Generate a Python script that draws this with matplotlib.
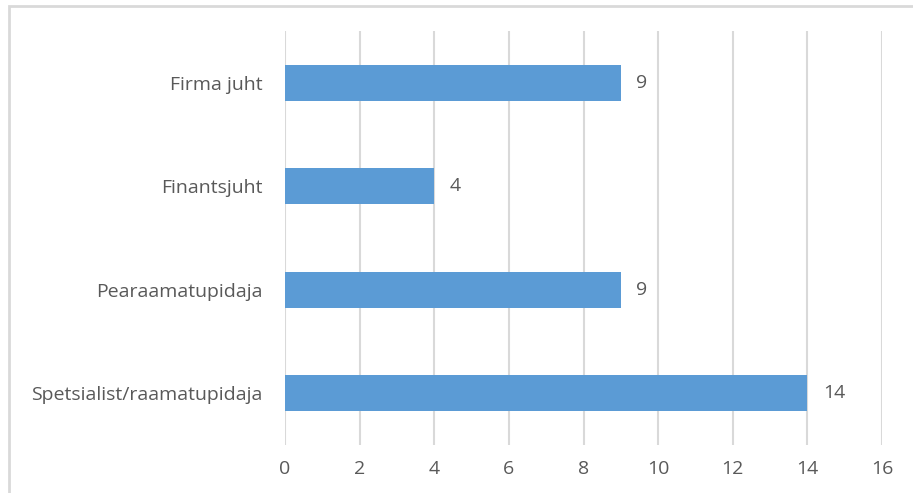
import matplotlib.pyplot as plt
from matplotlib.patches import Rectangle

# positions and counts
categories = ['Firma juht', 'Finantsjuht', 'Pearaamatupidaja', 'Spetsialist/raamatupidaja']
counts = [9, 4, 9, 14]
x_ticks = [0, 2, 4, 6, 8, 10, 12, 14, 16]

BAR_COLOR = '#5B9BD5'
TEXT_COLOR = '#595959'
GRID_COLOR = '#D9D9D9'

plt.rcParams['font.family'] = ['Open Sans', 'DejaVu Sans']

fig = plt.figure(figsize=(9.13, 4.93), dpi=100)
ax = fig.add_axes([0.3122, 0.0974, 0.6539, 0.8397])

ypos = list(range(len(categories)))
ax.barh(ypos, counts, height=0.35, color=BAR_COLOR, zorder=3)

for y, v in zip(ypos, counts):
    ax.annotate(str(v), (v, y), xytext=(11, 0), textcoords='offset points',
                va='center', ha='left', fontsize=14, color=TEXT_COLOR)

ax.set_xlim(0, 16)
ax.set_ylim(len(categories) - 0.5, -0.5)
ax.set_xticks(x_ticks)
ax.set_yticks(ypos)
ax.set_yticklabels(categories)
ax.tick_params(axis='both', length=0, labelsize=14, colors=TEXT_COLOR)
ax.tick_params(axis='x', pad=11)
ax.tick_params(axis='y', pad=16)

ax.grid(axis='x', color=GRID_COLOR, linewidth=1.5, zorder=0)
for s in ax.spines.values():
    s.set_visible(False)

# chart border
fig.patches.append(Rectangle((9 / 913, -0.1), 1.2, 1 - 6 / 493 + 0.1,
                             transform=fig.transFigure, fill=False,
                             edgecolor=GRID_COLOR, linewidth=2))

fig.savefig('out.png', dpi=100)
